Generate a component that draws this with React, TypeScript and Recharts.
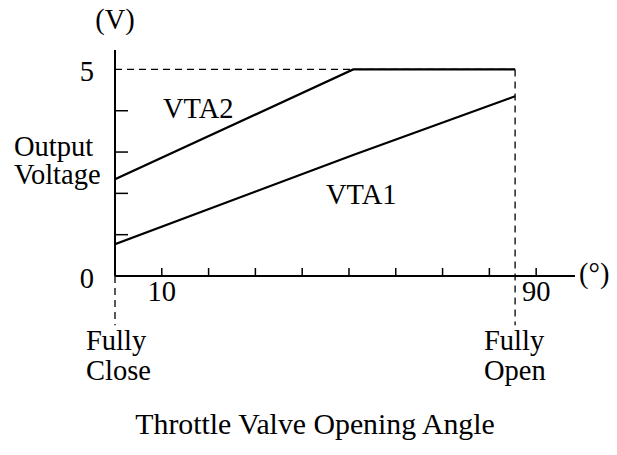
import React from 'react';
import { LineChart, Line, XAxis, YAxis, ReferenceLine, Customized } from 'recharts';

const angles = [0, 50.9, 85.5];
const vta1 = [0.77, 2.93, 4.35];
const vta2 = [2.34, 5, 5];
const xTicks = [10, 20, 30, 40, 50, 60, 70, 80, 90];
const xLabelled = [10, 90];
const yTicks = [0, 1, 2, 3, 4, 5];
const yLabelled = [0, 5];
const fullyClose = 0;
const fullyOpen = 85.5;
const vMax = 5;

const data = angles.map((a, i) => ({ angle: a, vta1: vta1[i], vta2: vta2[i] }));

const FONT = '"Liberation Serif", "Times New Roman", serif';
const FS = 28.5;

const XTick = (props: any) => {
  const { x, y, payload } = props;
  const v = payload.value;
  return (
    <g>
      <line x1={x} x2={x} y1={y} y2={y - 8} stroke="#000" strokeWidth={1.5} />
      {xLabelled.includes(v) && (
        <text x={x} y={y + 25} textAnchor="middle" fontFamily={FONT} fontSize={FS} fill="#000">
          {v}
        </text>
      )}
    </g>
  );
};

const YTick = (props: any) => {
  const { x, y, payload } = props;
  const v = payload.value;
  const showMark = v !== 0 && v !== vMax;
  return (
    <g>
      {showMark && <line x1={x} x2={x + 13} y1={y} y2={y} stroke="#000" strokeWidth={1.5} />}
      {yLabelled.includes(v) && (
        <text x={x - 21} y={y + 12} textAnchor="end" fontFamily={FONT} fontSize={FS} fill="#000">
          {v}
        </text>
      )}
    </g>
  );
};

const Annotations = () => (
  <g fontFamily={FONT} fontSize={FS} fill="#000">
    <text x={115} y={29} textAnchor="middle">(V)</text>
    <text x={14} y={156}>Output</text>
    <text x={14} y={184}>Voltage</text>
    <text x={163} y={118}>VTA2</text>
    <text x={326} y={204}>VTA1</text>
    <text x={579} y={283}>(°)</text>
    <text x={86} y={350}>Fully</text>
    <text x={86} y={380}>Close</text>
    <text x={484} y={350}>Fully</text>
    <text x={484} y={380}>Open</text>
    <text x={315} y={434} textAnchor="middle" fontSize={29.8}>Throttle Valve Opening Angle</text>
  </g>
);

export default function App() {
  return (
    <div style={{ position: 'absolute', left: 0, top: 0, background: '#fff' }}>
      <LineChart
        width={617}
        height={455}
        data={data}
        margin={{ top: 50, right: 42, bottom: 149, left: 55 }}
      >
        <XAxis
          dataKey="angle"
          type="number"
          domain={[0, 98.3]}
          ticks={xTicks}
          tick={<XTick />}
          tickLine={false}
          tickSize={0}
          tickMargin={0}
          height={30}
          axisLine={{ stroke: '#000', strokeWidth: 2 }}
          allowDataOverflow
          interval={0}
        />
        <YAxis
          type="number"
          domain={[0, 5.47]}
          ticks={yTicks}
          tick={<YTick />}
          tickLine={false}
          tickSize={0}
          tickMargin={0}
          width={60}
          axisLine={{ stroke: '#000', strokeWidth: 2 }}
          allowDataOverflow
          interval={0}
        />
        <ReferenceLine
          segment={[{ x: fullyClose, y: vMax }, { x: fullyOpen, y: vMax }]}
          stroke="#000"
          strokeWidth={1.3}
          strokeDasharray="7 5"
          ifOverflow="visible"
        />
        <ReferenceLine
          segment={[{ x: fullyOpen, y: vMax }, { x: fullyOpen, y: -1.19 }]}
          stroke="#000"
          strokeWidth={1.3}
          strokeDasharray="7 5"
          ifOverflow="visible"
        />
        <ReferenceLine
          segment={[{ x: fullyClose, y: 0 }, { x: fullyClose, y: -1.19 }]}
          stroke="#000"
          strokeWidth={1.3}
          strokeDasharray="7 5"
          ifOverflow="visible"
        />
        <Line type="linear" dataKey="vta1" stroke="#000" strokeWidth={2.2} dot={false} isAnimationActive={false} />
        <Line type="linear" dataKey="vta2" stroke="#000" strokeWidth={2.2} dot={false} isAnimationActive={false} />
        <Customized component={Annotations} />
      </LineChart>
    </div>
  );
}
